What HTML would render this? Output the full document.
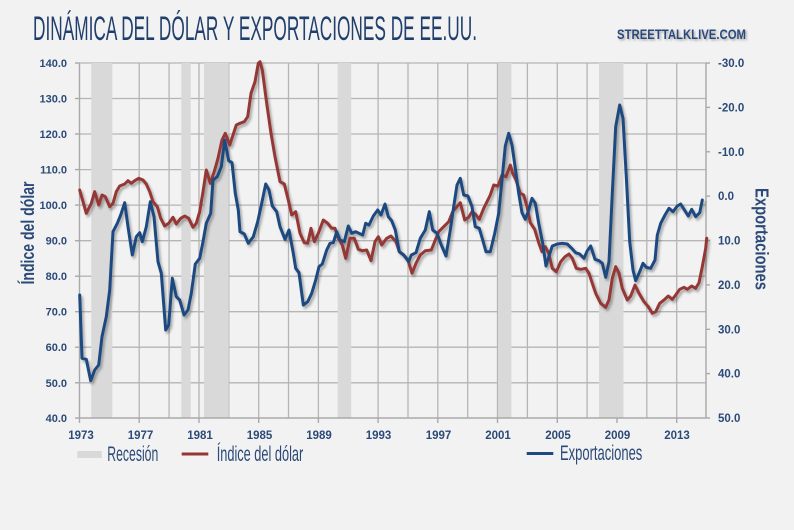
<!DOCTYPE html>
<html>
<head>
<meta charset="utf-8">
<style>
  html,body{margin:0;padding:0;background:#f2f2f2;}
  svg{display:block;}
  text{font-family:"Liberation Sans", sans-serif;}
</style>
</head>
<body>
<svg width="794" height="530" viewBox="0 0 794 530" xmlns="http://www.w3.org/2000/svg">
  <defs>
    <filter id="sh" x="-5%" y="-5%" width="110%" height="110%">
      <feDropShadow dx="1.8" dy="2.4" stdDeviation="1.2" flood-color="#000" flood-opacity="0.33"/>
    </filter>
    <filter id="tsh" x="-5%" y="-20%" width="110%" height="150%">
      <feDropShadow dx="1.5" dy="1.5" stdDeviation="1" flood-color="#000" flood-opacity="0.3"/>
    </filter>
  </defs>
  <rect width="794" height="530" fill="#f2f2f2"/>

  <!-- Title -->
  <text x="33" y="40" font-size="34" fill="#213f6c" textLength="444" lengthAdjust="spacingAndGlyphs">DINÁMICA DEL DÓLAR Y EXPORTACIONES DE EE.UU.</text>
  <text x="617" y="39" font-size="14" font-weight="bold" fill="#2c4a7a" textLength="129" lengthAdjust="spacingAndGlyphs" filter="url(#tsh)">STREETTALKLIVE.COM</text>

  <!-- Gridlines -->
  <g stroke="#b5b5b5" stroke-width="1.3" fill="none">
    <!-- horizontal -->
    <line x1="79.5" y1="63" x2="706" y2="63"/>
    <line x1="79.5" y1="98.5" x2="706" y2="98.5"/>
    <line x1="79.5" y1="134" x2="706" y2="134"/>
    <line x1="79.5" y1="169.6" x2="706" y2="169.6"/>
    <line x1="79.5" y1="205.1" x2="706" y2="205.1"/>
    <line x1="79.5" y1="240.7" x2="706" y2="240.7"/>
    <line x1="79.5" y1="276.2" x2="706" y2="276.2"/>
    <line x1="79.5" y1="311.7" x2="706" y2="311.7"/>
    <line x1="79.5" y1="347.2" x2="706" y2="347.2"/>
    <line x1="79.5" y1="382.8" x2="706" y2="382.8"/>
    <!-- vertical every 2 years -->
    <line x1="109.4" y1="63" x2="109.4" y2="418"/>
    <line x1="139.2" y1="63" x2="139.2" y2="418"/>
    <line x1="169.1" y1="63" x2="169.1" y2="418"/>
    <line x1="199" y1="63" x2="199" y2="418"/>
    <line x1="228.8" y1="63" x2="228.8" y2="418"/>
    <line x1="258.7" y1="63" x2="258.7" y2="418"/>
    <line x1="288.5" y1="63" x2="288.5" y2="418"/>
    <line x1="318.4" y1="63" x2="318.4" y2="418"/>
    <line x1="348.3" y1="63" x2="348.3" y2="418"/>
    <line x1="378.1" y1="63" x2="378.1" y2="418"/>
    <line x1="408" y1="63" x2="408" y2="418"/>
    <line x1="437.8" y1="63" x2="437.8" y2="418"/>
    <line x1="467.7" y1="63" x2="467.7" y2="418"/>
    <line x1="497.5" y1="63" x2="497.5" y2="418"/>
    <line x1="527.4" y1="63" x2="527.4" y2="418"/>
    <line x1="557.3" y1="63" x2="557.3" y2="418"/>
    <line x1="587.1" y1="63" x2="587.1" y2="418"/>
    <line x1="617" y1="63" x2="617" y2="418"/>
    <line x1="646.8" y1="63" x2="646.8" y2="418"/>
    <line x1="676.7" y1="63" x2="676.7" y2="418"/>
  </g>

  <!-- Recession bars -->
  <g fill="#d9d9d9">
    <rect x="91.3" y="63" width="21" height="355"/>
    <rect x="181.3" y="63" width="9.4" height="355"/>
    <rect x="204" y="63" width="24.7" height="355"/>
    <rect x="337.7" y="63" width="13.5" height="355"/>
    <rect x="498" y="63" width="13.4" height="355"/>
    <rect x="599" y="63" width="24.5" height="355"/>
  </g>

  <!-- Axes -->
  <g stroke="#a9a9a9" stroke-width="1.4" fill="none">
    <line x1="79.5" y1="63" x2="79.5" y2="418"/>
    <line x1="706" y1="63" x2="706" y2="418"/>
    <line x1="79.5" y1="418" x2="706" y2="418"/>
    <!-- left ticks -->
    <line x1="75" y1="63" x2="79.5" y2="63"/>
    <line x1="75" y1="98.5" x2="79.5" y2="98.5"/>
    <line x1="75" y1="134" x2="79.5" y2="134"/>
    <line x1="75" y1="169.6" x2="79.5" y2="169.6"/>
    <line x1="75" y1="205.1" x2="79.5" y2="205.1"/>
    <line x1="75" y1="240.7" x2="79.5" y2="240.7"/>
    <line x1="75" y1="276.2" x2="79.5" y2="276.2"/>
    <line x1="75" y1="311.7" x2="79.5" y2="311.7"/>
    <line x1="75" y1="347.2" x2="79.5" y2="347.2"/>
    <line x1="75" y1="382.8" x2="79.5" y2="382.8"/>
    <line x1="75" y1="418" x2="79.5" y2="418"/>
    <!-- right ticks -->
    <line x1="706" y1="63" x2="710" y2="63"/>
    <line x1="706" y1="107.4" x2="710" y2="107.4"/>
    <line x1="706" y1="151.8" x2="710" y2="151.8"/>
    <line x1="706" y1="196.1" x2="710" y2="196.1"/>
    <line x1="706" y1="240.5" x2="710" y2="240.5"/>
    <line x1="706" y1="284.9" x2="710" y2="284.9"/>
    <line x1="706" y1="329.3" x2="710" y2="329.3"/>
    <line x1="706" y1="373.6" x2="710" y2="373.6"/>
    <line x1="706" y1="418" x2="710" y2="418"/>
    <!-- bottom ticks every 4 years -->
    <line x1="79.5" y1="418" x2="79.5" y2="423"/>
    <line x1="139.2" y1="418" x2="139.2" y2="423"/>
    <line x1="199" y1="418" x2="199" y2="423"/>
    <line x1="258.7" y1="418" x2="258.7" y2="423"/>
    <line x1="318.4" y1="418" x2="318.4" y2="423"/>
    <line x1="378.1" y1="418" x2="378.1" y2="423"/>
    <line x1="437.8" y1="418" x2="437.8" y2="423"/>
    <line x1="497.5" y1="418" x2="497.5" y2="423"/>
    <line x1="557.3" y1="418" x2="557.3" y2="423"/>
    <line x1="617" y1="418" x2="617" y2="423"/>
    <line x1="676.7" y1="418" x2="676.7" y2="423"/>
  </g>

  <!-- Left tick labels -->
  <g font-size="11" font-weight="bold" fill="#2b4a78" text-anchor="end">
    <text x="67" y="67">140.0</text>
    <text x="67" y="102.5">130.0</text>
    <text x="67" y="138">120.0</text>
    <text x="67" y="173.6">110.0</text>
    <text x="67" y="209.1">100.0</text>
    <text x="67" y="244.7">90.0</text>
    <text x="67" y="280.2">80.0</text>
    <text x="67" y="315.7">70.0</text>
    <text x="67" y="351.2">60.0</text>
    <text x="67" y="386.8">50.0</text>
    <text x="67" y="422">40.0</text>
  </g>

  <!-- Right tick labels -->
  <g font-size="11.5" font-weight="bold" fill="#2b4a78" text-anchor="start">
    <text x="718" y="67">-30.0</text>
    <text x="718" y="111.4">-20.0</text>
    <text x="718" y="155.8">-10.0</text>
    <text x="718" y="200.1">0.0</text>
    <text x="718" y="244.5">10.0</text>
    <text x="718" y="288.9">20.0</text>
    <text x="718" y="333.3">30.0</text>
    <text x="718" y="377.6">40.0</text>
    <text x="718" y="422">50.0</text>
  </g>

  <!-- Year labels -->
  <g font-size="11.5" font-weight="bold" fill="#2b4a78" text-anchor="middle">
    <text x="81" y="439">1973</text>
    <text x="140.5" y="439">1977</text>
    <text x="200" y="439">1981</text>
    <text x="259.5" y="439">1985</text>
    <text x="319" y="439">1989</text>
    <text x="378.5" y="439">1993</text>
    <text x="438.5" y="439">1997</text>
    <text x="498" y="439">2001</text>
    <text x="558" y="439">2005</text>
    <text x="617.5" y="439">2009</text>
    <text x="677" y="439">2013</text>
  </g>

  <!-- Axis titles -->
  <text transform="translate(34,233) rotate(-90)" text-anchor="middle" font-size="18" font-weight="bold" fill="#2b4a78" textLength="103" lengthAdjust="spacingAndGlyphs">Índice del dólar</text>
  <text transform="translate(755.5,239) rotate(90)" text-anchor="middle" font-size="18" font-weight="bold" fill="#2b4a78" textLength="102" lengthAdjust="spacingAndGlyphs">Exportaciones</text>

  <!-- Series -->
  <g fill="none" stroke-width="3" stroke-linejoin="round" stroke-linecap="round" filter="url(#sh)">
    <polyline stroke="#953735" points="79.7,190 86.3,213.3 91.3,203.3 94.7,191.7 98.7,205 102,195 105.3,196.7 109.7,206.7 113,203.3 116.3,191.7 119.7,186 124.7,184 128,180.7 131.3,183.3 134.7,180.7 138.7,178.3 143,180 146.3,184 149.7,191.7 153,201.7 157.3,206.7 160.7,218.3 164.7,226 168.7,223.3 173,217.3 176.3,224 180.7,218.3 184.7,216 188.7,218.3 193,227.3 196.3,223.3 199.7,211.7 203,191.7 206.3,170 210.3,183.3 214.7,170 218,158.3 222,140 225.3,133.3 229.7,145 233,135 236.3,125 240,123.3 244.3,121.7 247.7,116.7 251,93.3 255,81.7 258.3,63.3 260,61.7 262.3,70 266.7,103.3 271,133.3 275,156.7 280,181.7 284.3,184 288.3,200 291.7,215 295.7,211.7 300,233.3 304.3,242.7 307.7,243.3 311,228.3 314.3,241.7 318.3,233.3 323.3,220 327.7,223.3 331.7,228.3 335,228.3 338.3,238.3 342.3,245 345.7,258.3 350,238.3 354.3,238.3 358.3,249.3 362.3,250.7 366.7,250 371,260.7 375,241.7 378.3,236.7 381.7,245 386.7,238.3 391,236 396,241.7 399.3,251.7 403.7,255 408,260 412,273.3 416,263.3 420.3,255 425.3,250.7 431.3,250 435.3,240 438.7,231.7 443.7,226.7 448.7,221.7 452.7,211.7 457,206.7 460.3,202.7 464.7,220 468.7,217.3 472,211.7 475.3,214 479.3,219.3 483.7,208.3 487,201.7 490.3,195 493.7,185 498,186 502,175 506,176.7 510.3,165 512.7,173.3 516,180 520.3,193.3 523.7,195 527,206.7 530.3,222.7 534.7,229.3 538.7,242.7 542,251.7 545.3,246.7 548.7,253.3 552.3,268.3 556.3,271.7 560.7,261.7 565,256.7 569,254 572.3,258.3 576.3,268.3 580.7,269.3 585.7,268.3 589,273.3 592.3,283.3 595.7,293.3 600.7,303.3 605.7,307.3 609,300 612.3,278.3 615.7,266.7 619,273.3 622.3,288.3 627.3,300 630.7,296 635,285 639,293.3 644,301.7 648.3,306.7 652.3,313.3 655.7,311.7 659.7,303.3 664,300 668.3,296 672.3,299.3 675.7,295 679.7,289.3 684,287.3 687.3,289.3 691.7,286 695.7,288.3 699,282.7 702.3,266.7 705.7,248.3 706.7,238.3"/>
    <polyline stroke="#1f4a80" points="79.7,295 82,358.3 86.3,359.3 90.7,380.7 94.7,370 98.7,365 102,336.7 106.3,316.7 109.7,290 113,231.7 117.3,223.3 120.7,215 124.7,202.7 128,226.7 132.3,255 136.3,236.7 139.7,232.7 142.3,241.7 146.3,226.7 150.3,201.7 154,216.7 158,261.7 161.3,273.3 165.7,330 168.7,325 172.3,278.3 176.3,296.7 179.7,300 184,315 188,310 191.3,293.3 195.3,264 199.7,258.3 203,241.7 206.3,223.3 210.7,213.3 213,180 217.3,176.7 221.3,166.7 224.7,140 228.7,160.7 232,162.7 235.3,193.3 238.3,210 240,231.7 244.3,234 248.3,243.3 253.3,236.7 257.7,221.7 261.7,203.3 265.7,184 269,190 272.3,206 276.7,211.7 280,226.7 285,239.3 289,230 293.3,253.3 295.7,268.3 299,272.7 303.3,305 307.7,301.7 311.7,293.3 315.7,280 319,266.7 322.3,264 326.7,250 330,243.3 333.3,242.7 336.7,231.7 340,240 344.3,241.7 348.3,226 351.7,233.3 355.7,231.7 359,233.3 362.7,235 365.7,223.3 369,225 373.3,216 377.7,210 381,215 385,204 388.3,216.7 391.7,220.7 395.3,230 399.3,251.7 403.7,255 408.7,261.7 411.3,255 416,252.7 420.3,238.3 425.3,230 429.3,211.7 432.7,230 437,233.3 441.3,245 446,256 450.3,230 453.7,206.7 457,185 460.3,178.3 463.7,195 468,196 472,206.7 475.3,226.7 479.3,228.3 482.7,240 486,251.7 490.3,251.7 494.7,233.3 498.7,213.3 502,180 505.3,146 508.7,133.3 512,145 515.3,168.3 518.7,193.3 522,212.7 525.3,219.3 528.7,210 532,198.3 535.3,203.3 538.7,223.3 542.7,243.3 546,266 549.3,255 552.3,246 557.3,244 562.3,243.3 567.3,244 571.7,248.3 575.7,252.7 579.7,254 584,258.3 587.3,250.7 590.7,246 595,259.3 599,260.7 602.3,263.3 605.7,277.3 609,261.7 612.3,193.3 615.7,126.7 619.7,105 623,118.3 626.3,176.7 629.7,241.7 633,270 635.7,280.7 639,273.3 643,263.3 646.3,267.3 650.7,268.3 655,260 657.3,235 660.7,223.3 665,215 669,208.3 673,211.7 677.3,206 680.7,204 684,209.3 688.3,216 691.7,209.3 695.7,216.7 699.7,212.7 702.3,200"/>
  </g>

  <!-- Legend -->
  <rect x="77.3" y="451" width="24.4" height="7" fill="#d9d9d9"/>
  <text x="107.3" y="461" font-size="21" fill="#2b4a78" textLength="51" lengthAdjust="spacingAndGlyphs">Recesión</text>
  <line x1="181.7" y1="454" x2="208.3" y2="454" stroke="#953735" stroke-width="3"/>
  <text x="216.7" y="461" font-size="21" fill="#2b4a78" textLength="86.6" lengthAdjust="spacingAndGlyphs">Índice del dólar</text>
  <line x1="526.7" y1="453.5" x2="553.3" y2="453.5" stroke="#1f4a80" stroke-width="3"/>
  <text x="560" y="460" font-size="21" fill="#2b4a78" textLength="82.3" lengthAdjust="spacingAndGlyphs">Exportaciones</text>
</svg>
</body>
</html>
